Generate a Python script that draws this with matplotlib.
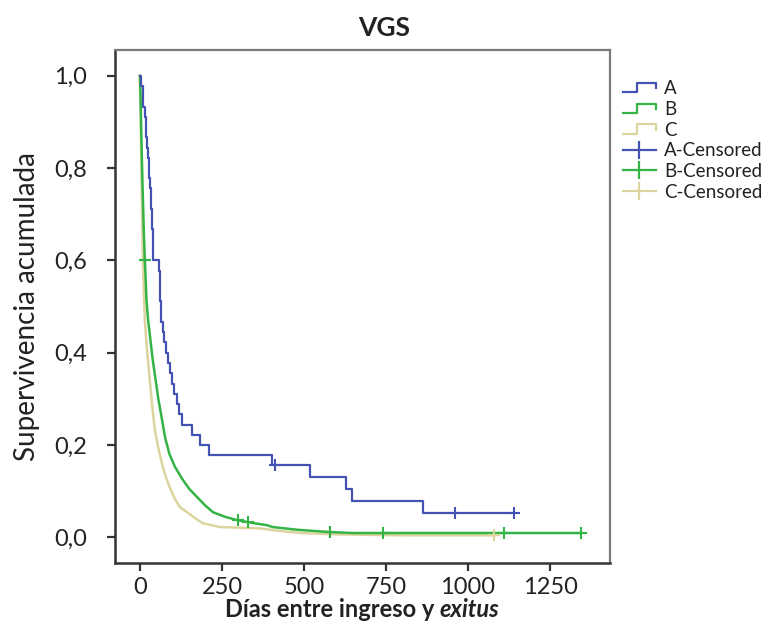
import numpy as np
import matplotlib
matplotlib.use("Agg")
import matplotlib.pyplot as plt
from matplotlib.lines import Line2D
from matplotlib.legend_handler import HandlerBase
from matplotlib.offsetbox import TextArea, HPacker, AnchoredOffsetbox

plt.rcParams['font.family'] = ['Lato', 'DejaVu Sans']

# Kaplan-Meier estimates per group: event times (days) and cumulative survival
a_time = [0, 3, 8, 10, 14, 17, 20, 22, 25, 27, 29, 31, 33, 35, 37, 38, 39, 40, 41,
          58, 60, 61, 62, 63, 64, 70, 72, 80, 85, 92, 98, 105, 113, 120, 128,
          159, 183, 210, 402, 518, 628, 646, 863, 1140]
a_surv = [1.0, 0.978, 0.956, 0.933, 0.911, 0.889, 0.867, 0.844, 0.822, 0.800,
          0.778, 0.756, 0.733, 0.711, 0.689, 0.667, 0.644, 0.622, 0.600,
          0.578, 0.556, 0.533, 0.511, 0.489, 0.467, 0.444, 0.422, 0.400, 0.378,
          0.356, 0.333, 0.311, 0.289, 0.267, 0.244, 0.222, 0.200, 0.178, 0.156,
          0.130, 0.104, 0.078, 0.052, 0.052]
a_cens = [411, 960, 1140]

b_time = [0, 2, 4, 6, 8, 10, 12, 15, 18, 20, 25, 30, 38, 46, 56, 66, 77, 90, 107,
          131, 150, 174, 200, 223, 260, 296, 350, 387, 405, 480, 580, 650, 1345]
b_surv = [1.0, 0.95, 0.88, 0.82, 0.76, 0.71, 0.66, 0.60, 0.55, 0.514, 0.47, 0.44,
          0.39, 0.35, 0.30, 0.26, 0.215, 0.18, 0.152, 0.124, 0.105, 0.087, 0.068,
          0.054, 0.044, 0.037, 0.030, 0.026, 0.022, 0.016, 0.011, 0.009, 0.009]
b_cens = [15, 299, 329, 580, 741, 1110, 1345]

c_time = [0, 2, 4, 6, 9, 12, 15, 20, 25, 30, 38, 46, 57, 70, 80, 91, 105, 122,
          152, 170, 192, 244, 366, 420, 488, 600, 800, 1080]
c_surv = [1.0, 0.92, 0.82, 0.72, 0.60, 0.53, 0.47, 0.42, 0.38, 0.34, 0.28, 0.23,
          0.19, 0.152, 0.128, 0.108, 0.085, 0.065, 0.050, 0.040, 0.030, 0.022,
          0.019, 0.014, 0.009, 0.006, 0.004, 0.004]
c_cens = [1080]

groups = ['A', 'B', 'C']
colors = ['#4452b4', '#34b446', '#dcd49e']

x_ticks = [0, 250, 500, 750, 1000, 1250]
y_ticks = [0.0, 0.2, 0.4, 0.6, 0.8, 1.0]


def surv_at(times, surv, t):
    idx = np.searchsorted(times, t, side='right') - 1
    return np.asarray(surv)[idx]


fig = plt.figure(figsize=(7.68, 6.36), dpi=100)
ax = fig.add_axes([115 / 768, 1 - 563 / 636, 495 / 768, 513 / 636])

series = [(a_time, a_surv, a_cens), (b_time, b_surv, b_cens), (c_time, c_surv, c_cens)]
# large groups (B, C) have many tiny steps, drawn as a continuous trace;
# group A keeps its visible staircase
for i in [2, 1, 0]:
    t, s, cens = series[i]
    if i == 0:
        ax.step(t, s, where='post', color=colors[i], lw=1.6, zorder=5)
    else:
        ax.plot(t, s, color=colors[i], lw=1.8, zorder=3 + (2 - i))
    cy = surv_at(t, s, cens) if i == 0 else np.interp(cens, t, s)
    ax.plot(cens, cy, linestyle='none', marker='+', markersize=9, mew=1.5,
            color=colors[i], zorder=6)

ax.set_xlim(-76, 1433)
ax.set_ylim(-0.056, 1.056)
ax.set_xticks(x_ticks)
ax.set_xticklabels([str(v) for v in x_ticks])
ax.set_yticks(y_ticks)
ax.set_yticklabels([f"{v:.1f}".replace('.', ',') for v in y_ticks])
ax.tick_params(axis='both', direction='out', length=6, width=1.6, colors='#333333',
               labelsize=17, labelcolor='#222222')
ax.tick_params(axis='y', pad=14)
ax.tick_params(axis='x', pad=4)

for side in ['left', 'bottom']:
    ax.spines[side].set_color('#333333')
    ax.spines[side].set_linewidth(1.8)
for side in ['top', 'right']:
    ax.spines[side].set_color('#7a7a7a')
    ax.spines[side].set_linewidth(1.6)

ax.set_ylabel('Supervivencia acumulada', fontsize=20, color='#222222', labelpad=10)

# x label with italic bold last word
lab1 = TextArea('Días entre ingreso y ', textprops=dict(fontsize=17, fontweight='bold', color='#222222'))
lab2 = TextArea('exitus', textprops=dict(fontsize=17, fontweight='bold', fontstyle='italic', color='#222222'))
box = HPacker(children=[lab1, lab2], align='baseline', pad=0, sep=0)
anch = AnchoredOffsetbox(loc='upper center', child=box, pad=0, frameon=False,
                         bbox_to_anchor=(362 / 768, 1 - 598 / 636),
                         bbox_transform=fig.transFigure, borderpad=0)
fig.add_artist(anch)

fig.suptitle('VGS', x=0.5, y=1 - 16 / 636, fontsize=19, fontweight='bold', color='#222222',
             va='top')


class StepHandler(HandlerBase):
    def create_artists(self, legend, orig_handle, xdescent, ydescent, width, height,
                       fontsize, trans):
        xs = np.array([0.0, 0.42, 0.42, 1.0, 1.0]) * width - xdescent
        ys = np.array([0.15, 0.15, 0.85, 0.85, 0.45]) * height - ydescent
        ln = Line2D(xs, ys, color=orig_handle.get_color(), lw=orig_handle.get_linewidth())
        ln.set_transform(trans)
        return [ln]


step_handles = [Line2D([], [], color=c, lw=1.6) for c in colors]
cens_handles = [Line2D([], [], color=c, lw=1.6, marker='|', markersize=13, mew=1.6)
                for c in colors]
handles = step_handles + cens_handles
labels = groups + [g + '-Censored' for g in groups]
handler_map = {h: StepHandler() for h in step_handles}
fig.legend(handles, labels, handler_map=handler_map, loc='upper left',
           bbox_to_anchor=(623 / 768, 1 - 80 / 636), frameon=False, fontsize=13.5,
           handlelength=1.75, handletextpad=0.45, labelspacing=0.2, borderpad=0,
           borderaxespad=0, labelcolor='#222222')

fig.savefig('out.png', dpi=100)
